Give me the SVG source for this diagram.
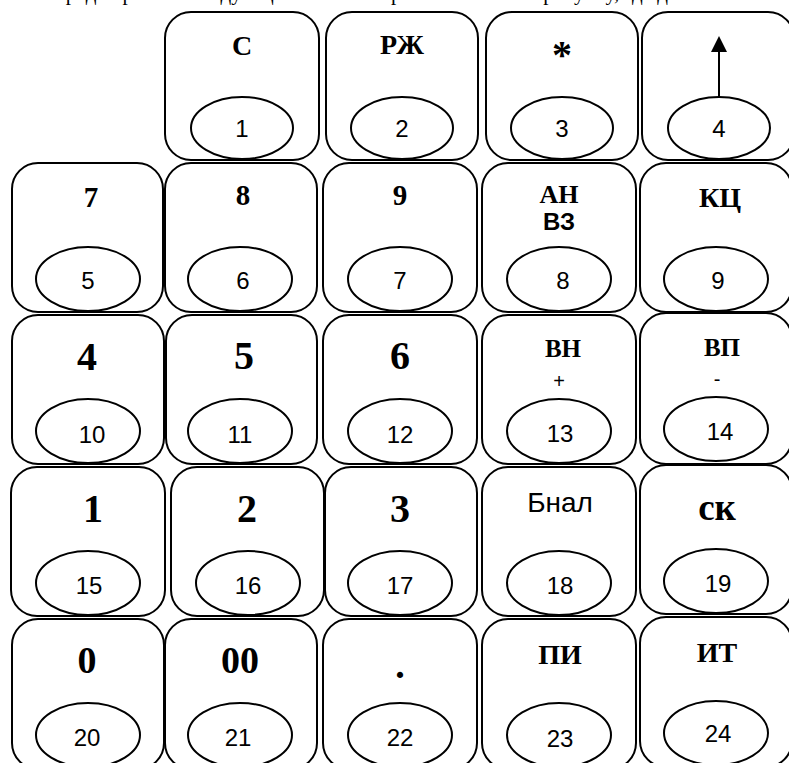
<svg xmlns="http://www.w3.org/2000/svg" width="789" height="763" viewBox="0 0 789 763">
<style>
.k{fill:#fff;stroke:#000;stroke-width:2}
.e{fill:#fff;stroke:#000;stroke-width:2}
.n{font-family:"Liberation Sans",Arial,sans-serif;font-size:24px;text-anchor:middle;fill:#000}
.b{font-family:"Liberation Serif","Times New Roman",serif;font-weight:bold;text-anchor:middle;fill:#000}
.s{font-family:"Liberation Sans",Arial,sans-serif;text-anchor:middle;fill:#000}
</style>
<rect width="789" height="763" fill="#fff"/>
<text x="40" y="0" font-family="Liberation Serif,serif" font-size="21" fill="#000">Порядок работы следующий: клавиши расположены по рисунку, где даны обозначения кнопок, а их номера...</text>
<g id="key1"><rect class="k" x="165" y="12" width="154" height="148" rx="26"/><ellipse class="e" cx="242" cy="128" rx="51" ry="31"/><text class="b" x="242" y="55" font-size="28">С</text><text class="n" x="242" y="137">1</text></g>
<g id="key2"><rect class="k" x="326" y="12" width="152" height="148" rx="26"/><ellipse class="e" cx="402" cy="128" rx="51" ry="31"/><text class="b" x="402" y="54" font-size="28">РЖ</text><text class="n" x="402" y="137">2</text></g>
<g id="key3"><rect class="k" x="486" y="12" width="152" height="148" rx="26"/><ellipse class="e" cx="562" cy="128" rx="51" ry="31"/><text class="b" x="562" y="68" font-size="40">*</text><text class="n" x="562" y="137">3</text></g>
<g id="key4"><rect class="k" x="642" y="12" width="152" height="148" rx="26"/><ellipse class="e" cx="719" cy="128" rx="51" ry="31"/><line x1="719" y1="97" x2="719" y2="50" stroke="#000" stroke-width="2"/><polygon points="719,36 711,52 727,52" fill="#000"/><text class="n" x="719" y="137">4</text></g>

<g id="key5"><rect class="k" x="12" y="163" width="151" height="149" rx="26"/><ellipse class="e" cx="88" cy="279" rx="52" ry="32"/><text class="b" x="91" y="207" font-size="29">7</text><text class="n" x="88" y="289">5</text></g>
<g id="key6"><rect class="k" x="165" y="163" width="152" height="149" rx="26"/><ellipse class="e" cx="240" cy="279" rx="52" ry="32"/><text class="b" x="243" y="205" font-size="29">8</text><text class="n" x="243" y="289">6</text></g>
<g id="key7"><rect class="k" x="323" y="163" width="154" height="149" rx="26"/><ellipse class="e" cx="400" cy="279" rx="52" ry="32"/><text class="b" x="400" y="205" font-size="29">9</text><text class="n" x="400" y="289">7</text></g>
<g id="key8"><rect class="k" x="482" y="163" width="154" height="149" rx="26"/><ellipse class="e" cx="559" cy="279" rx="52" ry="32"/><text class="b" x="559" y="203" font-size="26">АН</text><text class="s" x="559" y="230" font-size="24" font-weight="bold">ВЗ</text><text class="n" x="563" y="289">8</text></g>
<g id="key9"><rect class="k" x="640" y="163" width="152" height="149" rx="26"/><ellipse class="e" cx="716" cy="279" rx="52" ry="32"/><text class="b" x="720" y="207" font-size="28">КЦ</text><text class="n" x="718" y="289">9</text></g>

<g id="key10"><rect class="k" x="12" y="315" width="152" height="149" rx="26"/><ellipse class="e" cx="88" cy="431" rx="52" ry="32"/><text class="b" x="87" y="370" font-size="40">4</text><text class="n" x="92" y="443">10</text></g>
<g id="key11"><rect class="k" x="166" y="315" width="151" height="149" rx="26"/><ellipse class="e" cx="240" cy="431" rx="52" ry="32"/><text class="b" x="244" y="369" font-size="40">5</text><text class="n" x="240" y="443">11</text></g>
<g id="key12"><rect class="k" x="323" y="315" width="154" height="149" rx="26"/><ellipse class="e" cx="400" cy="431" rx="52" ry="32"/><text class="b" x="400" y="369" font-size="40">6</text><text class="n" x="400" y="443">12</text></g>
<g id="key13"><rect class="k" x="482" y="315" width="154" height="149" rx="26"/><ellipse class="e" cx="559" cy="431" rx="52" ry="32"/><text class="b" x="563" y="357" font-size="25">ВН</text><text class="s" x="559" y="388" font-size="20">+</text><text class="n" x="560" y="442">13</text></g>
<g id="key14"><rect class="k" x="640" y="313" width="152" height="151" rx="26"/><ellipse class="e" cx="716" cy="429" rx="52" ry="32"/><text class="b" x="722" y="356" font-size="25">ВП</text><text class="s" x="717" y="386" font-size="20">-</text><text class="n" x="720" y="440">14</text></g>

<g id="key15"><rect class="k" x="11" y="467" width="154" height="149" rx="26"/><ellipse class="e" cx="88" cy="583" rx="52" ry="32"/><text class="b" x="93" y="522" font-size="40">1</text><text class="n" x="89" y="594">15</text></g>
<g id="key16"><rect class="k" x="171" y="467" width="153" height="149" rx="26"/><ellipse class="e" cx="248" cy="583" rx="52" ry="32"/><text class="b" x="247" y="522" font-size="40">2</text><text class="n" x="248" y="594">16</text></g>
<g id="key17"><rect class="k" x="325" y="467" width="152" height="149" rx="26"/><ellipse class="e" cx="400" cy="583" rx="52" ry="32"/><text class="b" x="400" y="522" font-size="40">3</text><text class="n" x="400" y="594">17</text></g>
<g id="key18"><rect class="k" x="482" y="467" width="154" height="149" rx="26"/><ellipse class="e" cx="559" cy="583" rx="52" ry="32"/><text class="s" x="560" y="512" font-size="28">Бнал</text><text class="n" x="560" y="594">18</text></g>
<g id="key19"><rect class="k" x="640" y="465" width="152" height="149" rx="26"/><ellipse class="e" cx="716" cy="581" rx="52" ry="32"/><text class="b" x="717" y="520" font-size="37">ск</text><text class="n" x="718" y="592">19</text></g>

<g id="key20"><rect class="k" x="12" y="619" width="152" height="150" rx="26"/><ellipse class="e" cx="88" cy="735" rx="52" ry="32"/><text class="b" x="87" y="673" font-size="38">0</text><text class="n" x="87" y="746">20</text></g>
<g id="key21"><rect class="k" x="165" y="619" width="152" height="150" rx="26"/><ellipse class="e" cx="240" cy="735" rx="52" ry="32"/><text class="b" x="240" y="673" font-size="38">00</text><text class="n" x="238" y="746">21</text></g>
<g id="key22"><rect class="k" x="323" y="619" width="154" height="150" rx="26"/><ellipse class="e" cx="400" cy="735" rx="52" ry="32"/><text class="b" x="400" y="678" font-size="38">.</text><text class="n" x="400" y="746">22</text></g>
<g id="key23"><rect class="k" x="482" y="619" width="154" height="150" rx="26"/><ellipse class="e" cx="559" cy="735" rx="52" ry="32"/><text class="b" x="560" y="664" font-size="28">ПИ</text><text class="n" x="560" y="747">23</text></g>
<g id="key24"><rect class="k" x="640" y="617" width="152" height="150" rx="26"/><ellipse class="e" cx="716" cy="733" rx="52" ry="32"/><text class="b" x="717" y="662" font-size="28">ИТ</text><text class="n" x="718" y="742">24</text></g>
<g id="connectors"></g>
</svg>
